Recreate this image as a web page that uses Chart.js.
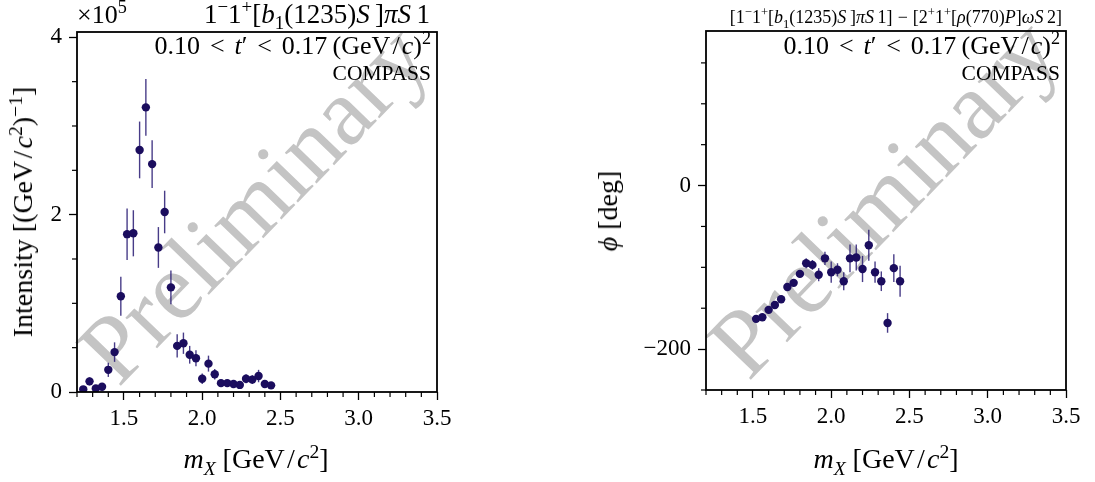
<!DOCTYPE html>
<html>
<head>
<meta charset="utf-8">
<script src="https://cdn.jsdelivr.net/npm/chart.js"></script>
<style>
  body { margin: 0; background: #fff; }
  #page { position: relative; width: 1095px; height: 482px; overflow: hidden; font-family: 'Liberation Serif', 'DejaVu Serif', serif; color: #000; }
  canvas { position: absolute; top: 0; z-index: 2; }
  .lbl { position: absolute; white-space: nowrap; line-height: 1; z-index: 3; }
  .lbl sup, .lbl sub { font-size: 0.7em; line-height: 0; }
  .lbl i { font-style: italic; }
  .op { margin: 0 0.28em; }
  .op2 { margin: 0 0.38em; }
  .sl { margin: 0 0.08em; }
  .wm { position: absolute; z-index: 1; font-size: 96px; color: #c4c4c4; white-space: nowrap; line-height: 1; transform: translate(-50%, -50%) rotate(-46deg); }
</style>
</head>
<body>
<div id="page">
  <div class="wm" style="left:253px; top:203px;">Preliminary</div>
  <div class="wm" style="left:883px; top:197px;">Preliminary</div>

  <canvas id="intensityChart" width="547" height="482" style="left:0; width:547px; height:482px;"></canvas>
  <canvas id="phaseChart" width="548" height="482" style="left:547px; width:548px; height:482px;"></canvas>

  <div class="lbl" style="left:77px; top:2px; font-size:26px;">&times;10<sup>5</sup></div>
  <div class="lbl" style="right:665px; top:1px; font-size:27px;">1<sup>&minus;</sup>1<sup>+</sup>[<i>b</i><sub>1</sub>(1235)<i>S</i>&thinsp;]<i>&pi;S</i>&thinsp;1</div>
  <div class="lbl" style="right:664px; top:33px; font-size:26px;">0.10<span class="op2">&lt;</span><i>t</i>&prime;<span class="op2">&lt;</span>0.17&thinsp;(GeV<span class="sl">/</span><i>c</i>)<sup>2</sup></div>
  <div class="lbl" style="right:664px; top:63px; font-size:21.5px;">COMPASS</div>

  <div class="lbl" style="right:33px; top:8px; font-size:18px;">[1<sup>&minus;</sup>1<sup>+</sup>[<i>b</i><sub>1</sub>(1235)<i>S</i>&thinsp;]<i>&pi;S</i>&thinsp;1]<span class="op">&minus;</span>[2<sup>+</sup>1<sup>+</sup>[<i>&rho;</i>(770)<i>P</i>]<i>&omega;S</i>&thinsp;2]</div>
  <div class="lbl" style="right:35px; top:33px; font-size:26px;">0.10<span class="op2">&lt;</span><i>t</i>&prime;<span class="op2">&lt;</span>0.17&thinsp;(GeV<span class="sl">/</span><i>c</i>)<sup>2</sup></div>
  <div class="lbl" style="right:35px; top:63px; font-size:21.5px;">COMPASS</div>

  <div class="lbl" style="left:256px; top:445px; font-size:28px; transform:translateX(-50%);"><i>m<sub>X</sub></i> [GeV<span class="sl">/</span><i>c</i><sup>2</sup>]</div>
  <div class="lbl" style="left:886px; top:445px; font-size:28px; transform:translateX(-50%);"><i>m<sub>X</sub></i> [GeV<span class="sl">/</span><i>c</i><sup>2</sup>]</div>

  <div class="lbl" style="left:23px; top:212px; font-size:28px; transform:translate(-50%,-50%) rotate(-90deg);">Intensity [(GeV<span class="sl">/</span><i>c</i><sup>2</sup>)<sup>&minus;1</sup>]</div>
  <div class="lbl" style="left:608px; top:211px; font-size:28px; transform:translate(-50%,-50%) rotate(-90deg);"><i>&#981;</i> [deg]</div>
</div>

<script>
var massIntensity = [1.24, 1.28, 1.32, 1.36, 1.40, 1.44, 1.48, 1.52, 1.56, 1.60, 1.64,
    1.68, 1.72, 1.76, 1.80, 1.84, 1.88, 1.92, 1.96, 2.00, 2.04,
    2.08, 2.12, 2.16, 2.20, 2.24, 2.28, 2.32, 2.36, 2.40, 2.44]
var intensity = [3000, 12000, 4000, 6000, 25000, 45000, 108000, 178000, 179000, 273000, 321000,
    257000, 163000, 203000, 118000, 52000, 55000, 42000, 38000, 15000, 32000,
    20000, 10000, 10000, 9000, 8000, 15000, 14000, 18000, 9000, 7500]
var intensityErr = [2000, 4500, 2000, 2000, 8000, 11000, 22000, 29000, 26000, 32000, 32000,
    27000, 23000, 24000, 19000, 13000, 12000, 10000, 9000, 6000, 9000,
    6000, 3000, 3000, 3000, 3000, 5000, 5000, 7000, 3000, 2000]

var massPhase = [1.52, 1.56, 1.60, 1.64, 1.68, 1.72, 1.76, 1.80, 1.84, 1.88, 1.92, 1.96,
    2.00, 2.04, 2.08, 2.12, 2.16, 2.20, 2.24, 2.28, 2.32, 2.36, 2.40, 2.44]
var phase = [-163, -161, -152, -146, -139, -124, -119, -108, -95, -97, -109, -89,
    -106, -103, -117, -89, -88, -102, -73, -106, -117, -168, -101, -117]
var phaseErr = [3, 3, 3, 3, 3, 4, 4, 4, 6, 6, 8, 8,
    13, 8, 11, 17, 16, 16, 19, 13, 12, 12, 17, 19]

var massTicks = [1.5, 2.0, 2.5, 3.0, 3.5]
var massMinorTicks = [1.2, 1.3, 1.4, 1.6, 1.7, 1.8, 1.9, 2.1, 2.2, 2.3, 2.4, 2.6, 2.7, 2.8, 2.9, 3.1, 3.2, 3.3, 3.4]
var intensityTicks = [0, 200000, 400000]
var intensityMinorTicks = [50000, 100000, 150000, 250000, 300000, 350000]
var phaseTicks = [-200, 0]
var phaseMinorTicks = [-250, -150, -100, -50, 50, 100, 150]

var markerColor = '#1b0d5e'
var barColor = 'rgba(40, 26, 115, 0.85)'
var tickFont = { family: "'Liberation Serif', serif", size: 23 }

function points(xs, ys) {
    return xs.map(function (x, i) {
        return { x: x, y: ys[i] }
    })
}

var errorBars = {
    id: 'errorBars',
    beforeDatasetsDraw: function (chart, args, opts) {
        var ctx = chart.ctx
        var xs = chart.scales.x
        var ys = chart.scales.y
        ctx.save()
        ctx.strokeStyle = barColor
        ctx.lineWidth = 1.4
        opts.xs.forEach(function (x, i) {
            var px = xs.getPixelForValue(x)
            ctx.beginPath()
            ctx.moveTo(px, ys.getPixelForValue(opts.ys[i] - opts.err[i]))
            ctx.lineTo(px, ys.getPixelForValue(opts.ys[i] + opts.err[i]))
            ctx.stroke()
        })
        ctx.restore()
    }
}

var frame = {
    id: 'frame',
    afterDraw: function (chart, args, opts) {
        var ctx = chart.ctx
        var a = chart.chartArea
        var xs = chart.scales.x
        var ys = chart.scales.y
        ctx.save()
        ctx.strokeStyle = '#000'
        ctx.lineWidth = 1.2
        opts.xMinor.forEach(function (v) {
            var px = xs.getPixelForValue(v)
            ctx.beginPath()
            ctx.moveTo(px, a.bottom)
            ctx.lineTo(px, a.bottom + 5)
            ctx.stroke()
        })
        opts.yMinor.forEach(function (v) {
            var py = ys.getPixelForValue(v)
            ctx.beginPath()
            ctx.moveTo(a.left, py)
            ctx.lineTo(a.left - 5, py)
            ctx.stroke()
        })
        ctx.lineWidth = 1.8
        ctx.strokeRect(a.left, a.top, a.right - a.left, a.bottom - a.top)
        ctx.restore()
    }
}

function makeChart(canvasId, xs, ys, err, yMin, yMax, yTicks, yMinor, yLabel, pad, xHeight, yWidth) {
    var ctx = document.getElementById(canvasId).getContext('2d')
    return new Chart(ctx, {
        type: 'scatter',
        data: {
            datasets: [{
                data: points(xs, ys),
                pointRadius: 4.2,
                pointBackgroundColor: markerColor,
                pointBorderWidth: 0,
                pointHoverRadius: 4.2
            }]
        },
        options: {
            responsive: false,
            animation: false,
            layout: { padding: pad },
            plugins: {
                legend: { display: false },
                tooltip: { enabled: false },
                errorBars: { xs: xs, ys: ys, err: err },
                frame: { xMinor: massMinorTicks, yMinor: yMinor }
            },
            scales: {
                x: {
                    type: 'linear',
                    min: 1.2,
                    max: 3.5,
                    afterBuildTicks: function (s) {
                        s.ticks = massTicks.map(function (v) { return { value: v } })
                    },
                    afterFit: function (s) { s.height = xHeight },
                    ticks: {
                        color: '#000',
                        font: tickFont,
                        padding: 5,
                        maxRotation: 0,
                        autoSkip: false,
                        callback: function (v) { return v.toFixed(1) }
                    },
                    grid: { drawOnChartArea: false, tickLength: 8, tickColor: '#000', tickWidth: 1.3 },
                    border: { display: false }
                },
                y: {
                    type: 'linear',
                    min: yMin,
                    max: yMax,
                    afterBuildTicks: function (s) {
                        s.ticks = yTicks.map(function (v) { return { value: v } })
                    },
                    afterFit: function (s) { s.width = yWidth },
                    ticks: {
                        color: '#000',
                        font: tickFont,
                        padding: 7,
                        autoSkip: false,
                        callback: yLabel
                    },
                    grid: { drawOnChartArea: false, tickLength: 8, tickColor: '#000', tickWidth: 1.3 },
                    border: { display: false }
                }
            }
        },
        plugins: [errorBars, frame]
    })
}

makeChart('intensityChart', massIntensity, intensity, intensityErr, 0, 406000,
    intensityTicks, intensityMinorTicks,
    function (v) { return String(v / 100000) },
    { left: 0, right: 110, top: 32, bottom: 0 }, 90, 77)

makeChart('phaseChart', massPhase, phase, phaseErr, -250, 189,
    phaseTicks, phaseMinorTicks,
    function (v) { return v < 0 ? '\u2212' + Math.abs(v) : String(v) },
    { left: 0, right: 29, top: 31, bottom: 0 }, 92, 159)
</script>
</body>
</html>
